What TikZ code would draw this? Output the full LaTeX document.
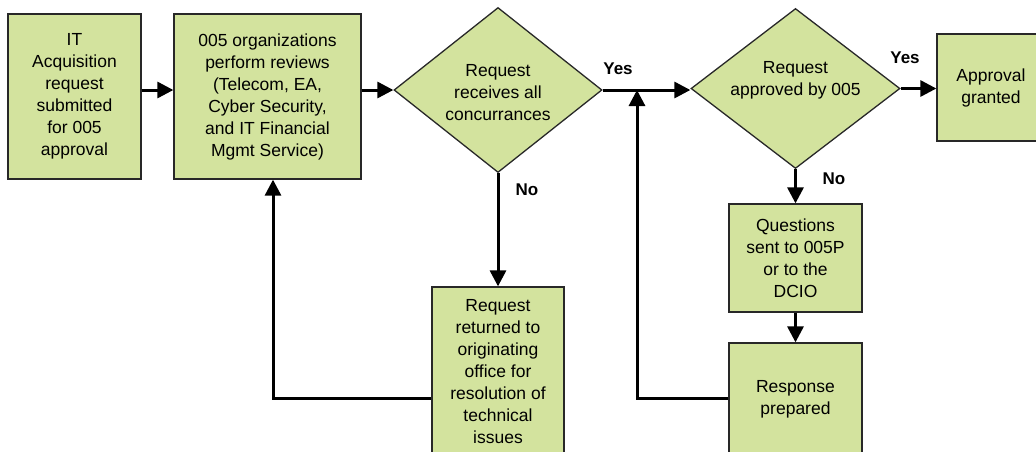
\documentclass[tikz,border=0pt]{standalone}
\usepackage{fontspec}
\setmainfont{Liberation Sans}
\usetikzlibrary{shapes.geometric,arrows.meta,calc}
\definecolor{boxfill}{RGB}{211,227,158}
\definecolor{boxline}{RGB}{40,40,40}
\begin{document}
\begin{tikzpicture}[x=1pt,y=-1pt,
  every node/.style={font=\fontsize{17.5}{22}\selectfont},
  procbox/.style={rectangle,draw=boxline,fill=boxfill,line width=1.3pt,
    align=center,inner sep=0pt},
  decision/.style={diamond,draw=boxline,fill=boxfill,line width=1.3pt,
    inner sep=0pt,aspect=1.26},
  arr/.style={line width=3pt,-{Triangle[length=16pt,width=16pt]}},
  lbl/.style={font=\fontsize{17}{20}\selectfont\bfseries}]
\useasboundingbox (0,0) rectangle (1036,451);
\clip (0,0) rectangle (1036,451);

% process boxes
\node[procbox,minimum width=133pt,minimum height=165pt] (b1) at (74.5,96.5)
  {IT\\Acquisition\\request\\submitted\\for 005\\approval};
\node[procbox,minimum width=187pt,minimum height=165pt] (b2) at (267.5,96.5)
  {005 organizations\\perform reviews\\(Telecom, EA,\\Cyber Security,\\and IT Financial\\Mgmt Service)};

% decisions
\node[decision,minimum width=208pt,minimum height=165pt,
  label={[align=center,yshift=-3pt]center:Request\\receives all\\concurrances}] (d1) at (498,90) {};
\node[decision,minimum width=209pt,minimum height=160pt,
  label={[align=center,yshift=8pt]center:Request\\approved by 005}] (d2) at (795.5,88.5) {};

\node[procbox,minimum width=108pt,minimum height=107pt] (appr) at (991,87.5)
  {Approval\\granted};
\node[procbox,minimum width=132pt,minimum height=170pt] (ret) at (498,372)
  {Request\\returned to\\originating\\office for\\resolution of\\technical\\issues};
\node[procbox,minimum width=133pt,minimum height=108pt] (q) at (795.5,258)
  {Questions\\sent to 005P\\or to the\\DCIO};
\node[procbox,minimum width=133pt,minimum height=112pt] (resp) at (795.5,399)
  {Response\\prepared};

\coordinate (j) at (637,90);

% connectors
\draw[arr] (b1.east |- d1.west) -- (b2.west |- d1.west);
\draw[arr] (b2.east |- d1.west) -- (d1.west);
\draw[arr] (d1.east) -- (d1.east -| d2.west);
\draw[arr] (d2.east) -- (d2.east -| appr.west);
\draw[arr] (d1.south) -- (ret.north);
\draw[arr] (d2.south) -- (q.north);
\draw[arr] (q.south) -- (resp.north);
\draw[arr] (resp.west |- 0,398) -| (j);
\draw[arr] (ret.west |- 0,398) -| ([xshift=5.5pt]b2.south);

% branch labels
\node[lbl] at (618,69) {Yes};
\node[lbl] at (905,58) {Yes};
\node[lbl] at (527,190) {No};
\node[lbl] at (834,179) {No};
\end{tikzpicture}
\end{document}
